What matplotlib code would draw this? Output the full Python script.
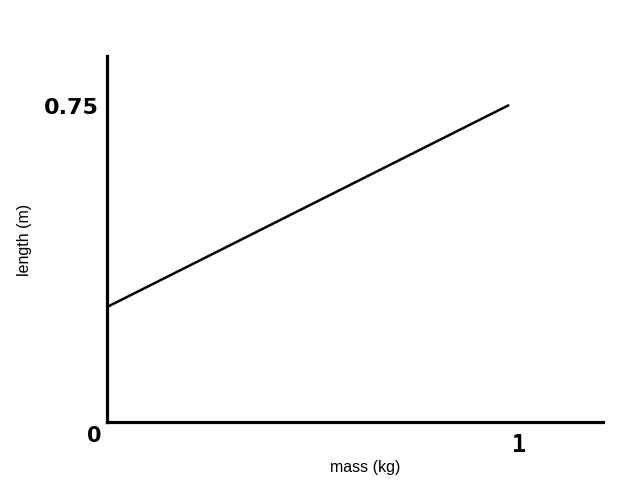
import matplotlib.pyplot as plt

mass = [0.0, 0.976]
length = [0.272, 0.75]
x_ticks = [1]
x_tick_labels = ['1']
y_ticks = [0.75]
y_tick_labels = ['0.75']

fig = plt.figure(figsize=(6.2, 4.85), dpi=100)
ax = fig.add_axes([107 / 620, 62 / 485, 496 / 620, 366 / 485])

ax.plot(mass, length, color='black', lw=1.8, solid_capstyle='butt')

ax.set_xlim(0, 496 / 412)
ax.set_ylim(0, 366 / 317 * 0.75)

for side in ['top', 'right']:
    ax.spines[side].set_visible(False)
for side in ['left', 'bottom']:
    ax.spines[side].set_linewidth(2.3)
    ax.spines[side].set_color('black')

ax.set_xticks(x_ticks)
ax.set_xticklabels(x_tick_labels, fontsize=17, fontweight='bold',
                   family='DejaVu Sans Mono')
ax.set_yticks(y_ticks)
ax.set_yticklabels(y_tick_labels, fontsize=16, fontweight='bold',
                   family='DejaVu Sans Condensed')
ax.tick_params(axis='both', length=0)
ax.tick_params(axis='x', pad=7)
ax.tick_params(axis='y', pad=6)

ax.text(-0.025, -0.035, '0', transform=ax.transAxes, ha='center', va='center',
        fontsize=15, fontweight='bold', family='DejaVu Sans')

fig.text(365 / 620, 1 - 468 / 485, 'mass (kg)', ha='center', va='center',
         fontsize=11.5, family='Liberation Sans')
fig.text(25 / 620, 1 - 240 / 485, 'length (m)', ha='center', va='center',
         rotation=90, fontsize=11.5, family='Liberation Sans')

plt.savefig('out.png', dpi=100)
